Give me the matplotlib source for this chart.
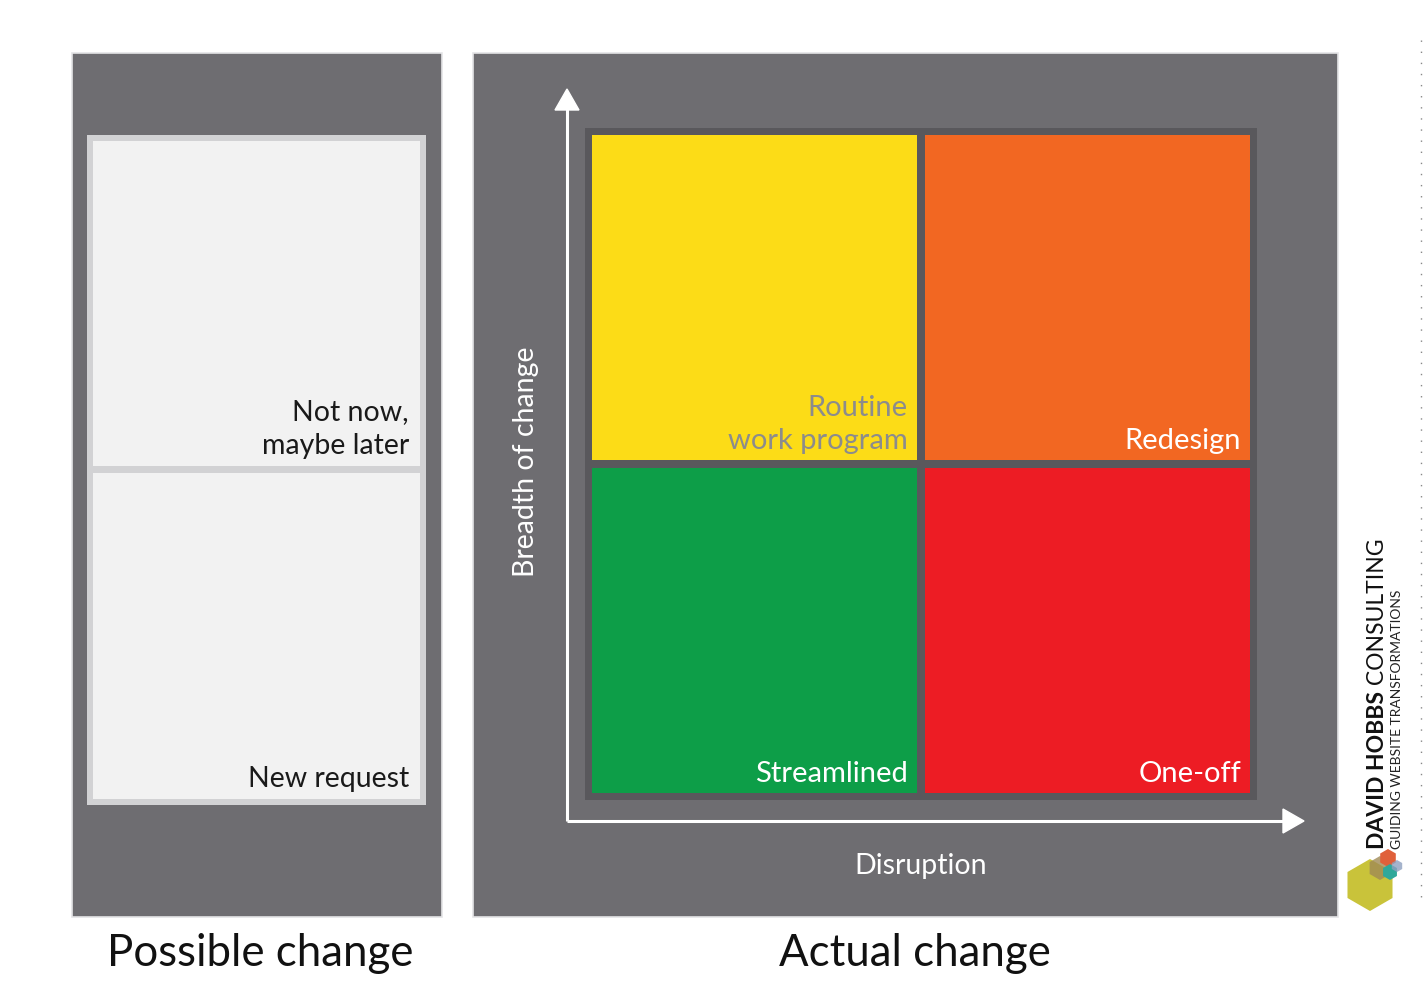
import matplotlib
matplotlib.use('Agg')
import matplotlib.pyplot as plt
from matplotlib.patches import Rectangle, RegularPolygon

plt.rcParams['font.family'] = ['Lato', 'DejaVu Sans']

# ── Content ──────────────────────────────────────────────────────────
panel_titles = ["Possible change", "Actual change"]
backlog_labels = ["Not now,\nmaybe later", "New request"]
quad_labels = ["Routine\nwork program", "Redesign", "Streamlined", "One-off"]
quad_colors = ["#fcdc17", "#f26722", "#0d9e48", "#ed1c24"]
quad_text_colors = ["#8c8c8c", "white", "white", "white"]
x_axis_label = "Disruption"
y_axis_label = "Breadth of change"
brand_name = ["DAVID HOBBS", " CONSULTING"]
brand_tag = "GUIDING WEBSITE TRANSFORMATIONS"

W, H = 1424, 990
fig = plt.figure(figsize=(W / 100, H / 100), dpi=100)
ax = fig.add_axes([0, 0, 1, 1])
ax.set_xlim(0, W)
ax.set_ylim(H, 0)
ax.axis("off")

panel_gray = "#6e6d71"

def rect(x0, y0, x1, y1, color, **kw):
    ax.add_patch(Rectangle((x0, y0), x1 - x0, y1 - y0, facecolor=color,
                           edgecolor=kw.pop("ec", "none"), **kw))

# ── Left panel ───────────────────────────────────────────────────────
rect(72, 53, 442, 917, panel_gray, ec="#e4e4e6", lw=1.2)
rect(87, 135, 426, 805, "#d2d2d4")
cells = [(141, 466), (473, 799)]
for (y0, y1), lab in zip(cells, backlog_labels):
    rect(93, y0, 420, y1, "#f2f2f2")
    ax.text(409, y1 - 7, lab, ha="right", va="bottom", fontsize=20.5,
            color="#1a1a1a", linespacing=1.4)

# ── Right panel ──────────────────────────────────────────────────────
rect(473, 53, 1338, 917, panel_gray, ec="#e4e4e6", lw=1.2)
rect(585, 128, 1257, 800, "#59585c")
quads = [(592, 135, 917, 460), (925, 135, 1250, 460),
         (592, 468, 917, 793), (925, 468, 1250, 793)]
for (x0, y0, x1, y1), lab, c, tc in zip(quads, quad_labels, quad_colors,
                                        quad_text_colors):
    rect(x0, y0, x1, y1, c)
    ax.text(x1 - 9, y1 - 6, lab, ha="right", va="bottom", fontsize=21,
            color=tc, multialignment="right", linespacing=1.32)

# axes arrows
ax.plot([567, 567], [821, 108], color="white", lw=2.2, solid_capstyle="butt")
ax.plot([567, 1285], [821, 821], color="white", lw=2.2, solid_capstyle="butt")
ax.add_patch(plt.Polygon([[555, 110], [579, 110], [567, 89]], color="white"))
ax.add_patch(plt.Polygon([[1283, 809], [1283, 833], [1304, 821]], color="white"))

ax.text(526, 462, y_axis_label, rotation=90, ha="center", va="center",
        fontsize=20.5, color="white")
ax.text(921, 866, x_axis_label, ha="center", va="center", fontsize=20.5,
        color="white")

# ── Panel titles ─────────────────────────────────────────────────────
ax.text(260, 954, panel_titles[0], ha="center", va="center", fontsize=31.5,
        color="#111111")
ax.text(915, 954, panel_titles[1], ha="center", va="center", fontsize=31.5,
        color="#111111")

# ── Brand block ──────────────────────────────────────────────────────
t = ax.text(1378, 849, brand_name[0], rotation=90, ha="center", va="bottom",
            fontsize=16.5, fontweight="bold", color="#111111")
fig.canvas.draw()
bb = t.get_window_extent()
top_px = H - bb.y1
ax.text(1378, top_px, brand_name[1], rotation=90, ha="center", va="bottom",
        fontsize=16.5, color="#111111")
ax.text(1397, 849, brand_tag, rotation=90, ha="center", va="bottom",
        fontsize=10, color="#222222")

# logo hexagons
ax.add_patch(RegularPolygon((1370, 885), 6, radius=26, orientation=0,
                            facecolor="#c9c33a", edgecolor="none"))
ax.add_patch(RegularPolygon((1380, 868), 6, radius=12, facecolor="#a08a55",
                            alpha=0.8))
ax.add_patch(RegularPolygon((1388, 858), 6, radius=9, facecolor="#e0603a"))
ax.add_patch(RegularPolygon((1390, 872), 6, radius=8, facecolor="#2fa89a"))
ax.add_patch(RegularPolygon((1397, 866), 6, radius=6, facecolor="#8fa0c0",
                            alpha=0.8))

# dotted edge
ax.plot([1421, 1421], [40, 905], color="#888888", lw=1,
        linestyle=(0, (1, 7)))

fig.savefig("out.png", dpi=100, facecolor="white")
